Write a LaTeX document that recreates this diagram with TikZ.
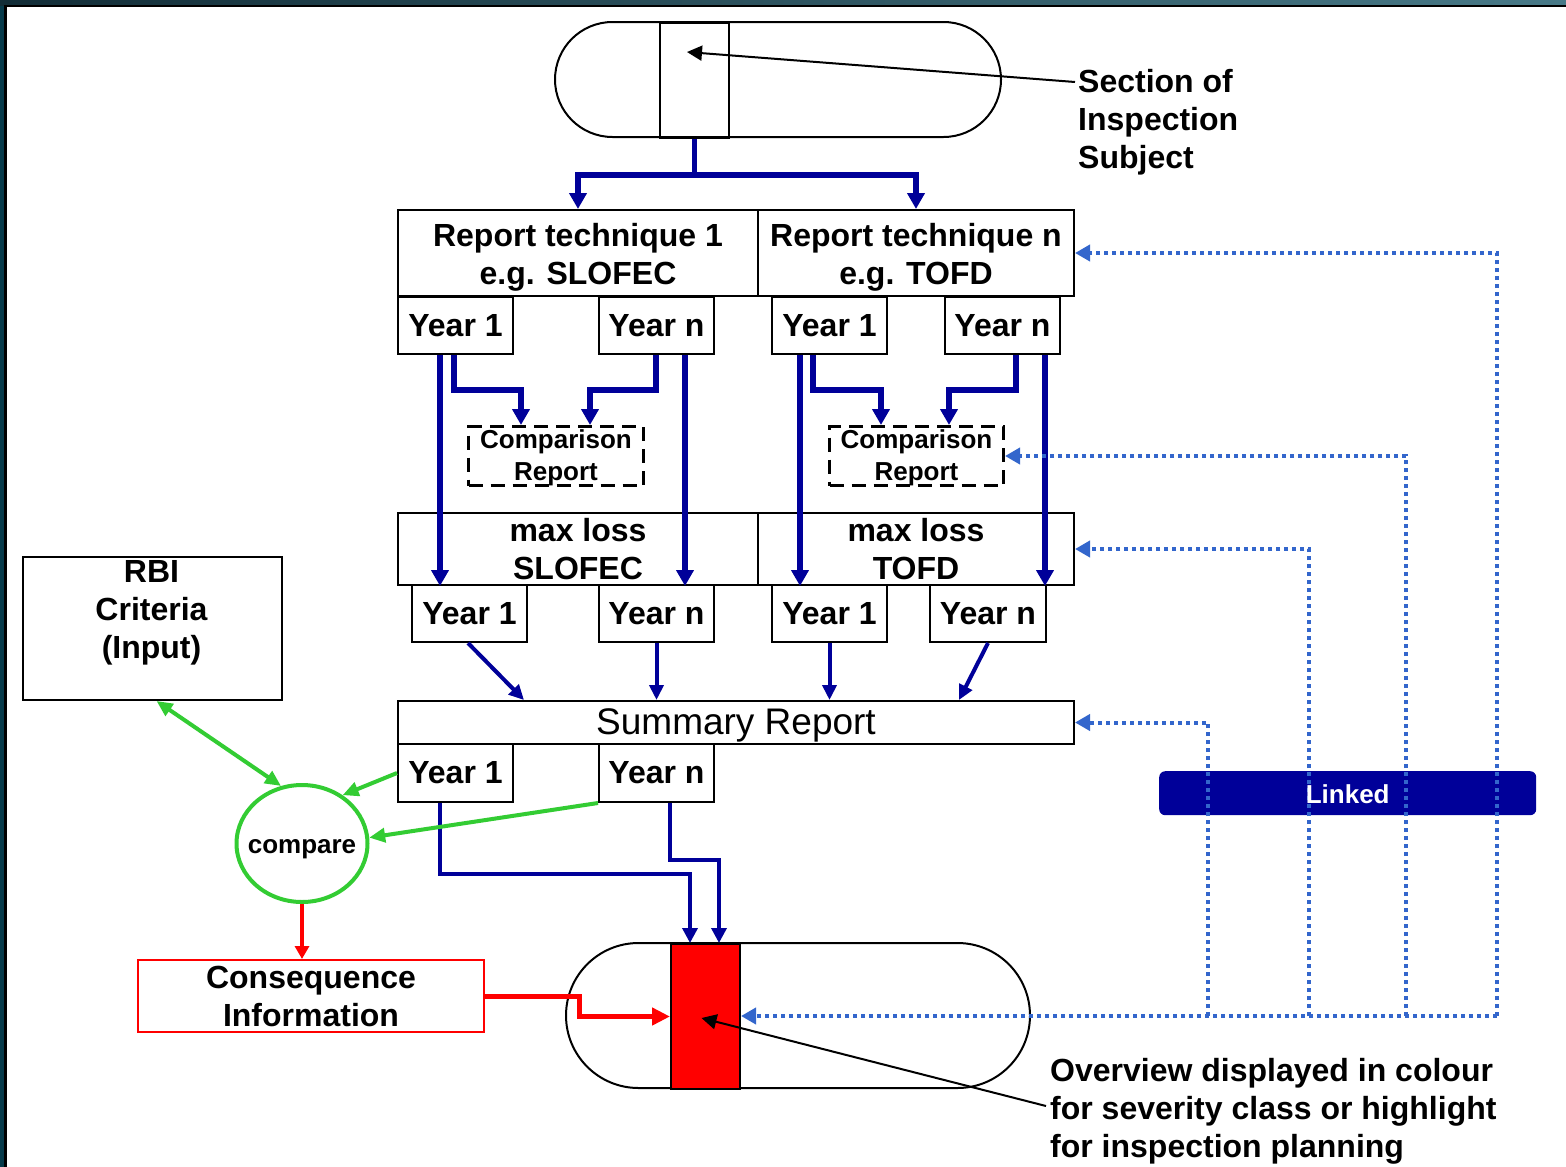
\documentclass[tikz,border=0pt]{standalone}
\usepackage{fontspec}
\setmainfont{Liberation Sans}
\usetikzlibrary{arrows.meta,shapes.misc,shapes.geometric,calc}
\definecolor{dblue}{RGB}{0,0,153}
\definecolor{lblue}{RGB}{51,102,204}
\definecolor{mgreen}{RGB}{51,204,51}
\definecolor{bgteal}{RGB}{6,58,74}
\definecolor{bgdark}{RGB}{18,45,55}
\definecolor{bglight}{RGB}{72,122,136}
\tikzset{
  box/.style={draw, line width=2pt, inner sep=0pt, anchor=north west, align=center,
    font=\bfseries\fontsize{32}{38}\selectfont},
  lbl/.style={inner sep=0pt, align=center, font=\bfseries\fontsize{32}{38}\selectfont},
  cmpbox/.style={draw, line width=3pt, dash pattern=on 14pt off 8pt, inner sep=0pt, anchor=north west},
  cmplbl/.style={inner sep=0pt, align=center, font=\bfseries\fontsize{26}{32}\selectfont},
  bthick/.style={draw=dblue, line width=5.5pt, -{Triangle[width=17pt,length=16pt]}},
  bmid/.style={draw=dblue, line width=4pt, -{Triangle[width=14pt,length=15pt]}},
  bthin/.style={draw=dblue, line width=3.5pt, -{Triangle[width=15pt,length=15pt]}},
  garrow/.style={draw=mgreen, line width=4pt, -{Triangle[width=14pt,length=16pt]}},
  rarrow/.style={draw=red, line width=3.5pt, -{Triangle[width=14pt,length=13pt]}},
  rthick/.style={draw=red, line width=5pt, -{Triangle[width=17pt,length=18pt]}},
  karrow/.style={draw=black, line width=2pt, -{Triangle[width=15pt,length=15pt]}},
  dotlink/.style={draw=lblue, line width=4pt, dash pattern=on 4pt off 4pt,
    -{Triangle[width=16pt,length=15pt]}},
  capsule/.style={draw, line width=2pt, rounded rectangle, inner sep=0pt}
}
\begin{document}
\begin{tikzpicture}[x=1pt,y=-1pt]
\useasboundingbox (0,0) rectangle (1566,1167);
% frame
\fill[bgteal] (0,0) rectangle (1566,1167);
\shade[left color=bgdark, right color=bglight] (0,0) rectangle (1566,5);
\fill[black] (4,5) rectangle (1566,1167);
\fill[white] (7,7) rectangle (1566,1167);

% top capsule
\node[capsule, minimum width=446pt, minimum height=115pt] (cap1) at (778,79.5) {};
\node[box, minimum width=69pt, minimum height=115pt] (sec) at (659,22) {};

% report technique boxes
\node[box, minimum width=360pt, minimum height=86pt] (r1) at (397,209) {};
\node[lbl] (r1t) at ([yshift=-4pt]r1.center) {Report technique 1\\e.g. SLOFEC};
\node[box, minimum width=316pt, minimum height=86pt] (r2) at (757,209) {};
\node[lbl] (r2t) at ([yshift=-4pt]r2.center) {Report technique n\\e.g. TOFD};

% year row 1
\node[box, minimum width=115pt, minimum height=57pt] (yb11) at (397,296) {Year 1};
\node[box, minimum width=115pt, minimum height=57pt] (yb1n) at (598,296) {Year n};
\node[box, minimum width=115pt, minimum height=57pt] (yb21) at (771,296) {Year 1};
\node[box, minimum width=115pt, minimum height=57pt] (yb2n) at (944,296) {Year n};

% comparison reports
\node[cmpbox, minimum width=175pt, minimum height=59pt] (cmp1) at (467,425) {};
\node[cmplbl] (cmp1t) at ([yshift=-1.5pt]cmp1.center) {Comparison\\Report};
\node[cmpbox, minimum width=174pt, minimum height=59pt] (cmp2) at (828,425) {};
\node[cmplbl] (cmp2t) at ([yshift=-1.5pt]cmp2.center) {Comparison\\Report};

% max loss
\node[box, minimum width=360pt, minimum height=72pt] (ml1) at (397,512) {max loss\\SLOFEC};
\node[box, minimum width=316pt, minimum height=72pt] (ml2) at (757,512) {max loss\\TOFD};

% year row 2
\node[box, minimum width=115pt, minimum height=57pt] (yc11) at (411,584) {Year 1};
\node[box, minimum width=115pt, minimum height=57pt] (yc1n) at (598,584) {Year n};
\node[box, minimum width=115pt, minimum height=57pt] (yc21) at (771,584) {Year 1};
\node[box, minimum width=116pt, minimum height=57pt] (yc2n) at (929,584) {Year n};

% summary
\node[box, minimum width=676pt, minimum height=43pt] (sr) at (397,700) {};
\node[inner sep=0pt, font=\fontsize{37}{40}\selectfont] (srt) at ([yshift=-3pt]sr.center) {Summary Report};
\node[box, minimum width=115pt, minimum height=58pt] (yd1) at (397,743) {Year 1};
\node[box, minimum width=115pt, minimum height=58pt] (ydn) at (598,743) {Year n};

% RBI criteria
\node[box, minimum width=259pt, minimum height=143pt] (rbi) at (22,556) {};
\node[lbl] (rbit) at (151.5,613) {RBI\\Criteria\\(Input)};

% compare
\node[draw=mgreen, line width=4pt, ellipse, inner sep=0pt, minimum width=131pt, minimum height=117pt] (cmpc) at (302,843.5) {};
\node[inner sep=0pt, font=\bfseries\fontsize{26}{30}\selectfont] (cmpct) at (302,849) {compare};

% consequence
\node[box, draw=red, minimum width=346pt, minimum height=72pt] (cons) at (137,959) {Consequence\\Information};

% bottom capsule
\node[capsule, minimum width=464pt, minimum height=145pt] (cap2) at (798,1015.5) {};
\node[box, fill=red, minimum width=69pt, minimum height=145pt] (redr) at (670,943) {};

% annotations
\node[lbl, align=left, anchor=west] (sect) at (1078,122) {Section of\\Inspection\\Subject};
\node[lbl, align=left, anchor=west] (ovw) at (1050,1111) {Overview displayed in colour\\for severity class or highlight\\for inspection planning};

% linked bar
\node[fill=dblue, rounded corners=6pt, inner sep=0pt, anchor=north west, minimum width=377pt, minimum height=44pt] (linked) at (1159,771) {};

% ---- connectors ----
% top split
\draw[bthick] (sec.south) -- ++(0,36) -| (r1.north);
\draw[bthick] (sec.south) -- ++(0,36) -| (r2.north);

% year row 1 -> comparison / max loss
\draw[bthick] ([xshift=43pt]yb11.south west) -- ([xshift=43pt]yb11.south west |- ml1.south);
\draw[bthick] ([xshift=57pt]yb11.south west) -- ++(0,35) -| ([xshift=54pt]cmp1.north west);
\draw[bthick] ([xshift=58pt]yb1n.south west) -- ++(0,35) -| ([xshift=123pt]cmp1.north west);
\draw[bthick] ([xshift=87pt]yb1n.south west) -- ([xshift=87pt]yb1n.south west |- ml1.south);
\draw[bthick] ([xshift=29pt]yb21.south west) -- ([xshift=29pt]yb21.south west |- ml2.south);
\draw[bthick] ([xshift=42pt]yb21.south west) -- ++(0,35) -| ([xshift=53pt]cmp2.north west);
\draw[bthick] ([xshift=72pt]yb2n.south west) -- ++(0,35) -| ([xshift=121pt]cmp2.north west);
\draw[bthick] ([xshift=101pt]yb2n.south west) -- ([xshift=101pt]yb2n.south west |- ml2.south);

% year row 2 -> summary
\draw[bmid] ([xshift=57pt]yc11.south west) -- ([xshift=127pt]sr.north west);
\draw[bmid] (yc1n.south) -- (yc1n.south |- sr.north);
\draw[bmid] (yc21.south) -- (yc21.south |- sr.north);
\draw[bmid] (yc2n.south) -- ([xshift=562pt]sr.north west);

% summary years -> overview
\draw[bthin] ([xshift=43pt]yd1.south west) -- ++(0,71) -| ([xshift=20pt]redr.north west);
\draw[bthin] ([xshift=72pt]ydn.south west) -- ++(0,57) -| ([xshift=49pt]redr.north west);

% green
\draw[garrow, {Triangle[width=14pt,length=16pt]}-{Triangle[width=14pt,length=16pt]}] ([xshift=4pt]rbi.south) -- (cmpc.110);
\draw[garrow] (yd1.west) -- (cmpc.50);
\draw[garrow] (ydn.south west) -- (cmpc.5);

% red
\draw[rarrow] (cmpc.south) -- (cmpc.south |- cons.north);
\draw[rthick] (cons.east) -- ++(94,0) |- (redr.west);

% black annotation arrows
\draw[karrow] ([xshift=-3pt,yshift=40pt]sect.west) -- ([xshift=-7.5pt,yshift=28.5pt]sec.center);
\draw[karrow] ([xshift=-4pt,yshift=5pt]ovw.west) -- ([xshift=-4pt,yshift=-1.5pt]redr.center);

% dotted links
\coordinate (dA) at (1497,1016);
\coordinate (dB) at (1406,1016);
\coordinate (dC) at (1309,1016);
\coordinate (dD) at (1208,1016);
\draw[dotlink] (dA) -- (dA -| redr.east);
\draw[dotlink] (dA) |- (r2.east);
\draw[dotlink] (dB) |- (cmp2.east);
\draw[dotlink] (dC) |- (ml2.east);
\draw[dotlink] (dD) |- (sr.east);

\node[inner sep=0pt, text=white, font=\bfseries\fontsize{26}{30}\selectfont] (linkedt) at ([yshift=-1pt]linked.center) {Linked};
\end{tikzpicture}
\end{document}
